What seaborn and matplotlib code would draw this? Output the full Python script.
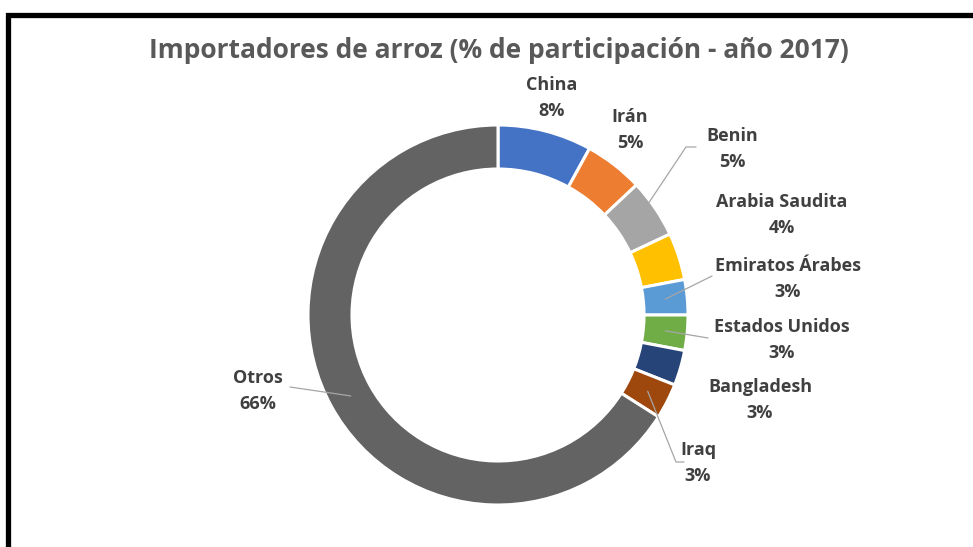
import numpy as np
import matplotlib.pyplot as plt
import seaborn as sns
from matplotlib.patches import Rectangle

# data
paises = ['China', 'Irán', 'Benin', 'Arabia Saudita', 'Emiratos Árabes',
          'Estados Unidos', 'Bangladesh', 'Iraq', 'Otros']
participacion = [8, 5, 5, 4, 3, 3, 3, 3, 66]
colores = ['#4472C4', '#ED7D31', '#A5A5A5', '#FFC000', '#5B9BD5',
           '#70AD47', '#264478', '#9E480E', '#636363']

# label centres in pixel space (x, y from top) and whether a leader line is drawn
label_pos = [(552, 98), (630, 130), (732, 149), (782, 215), (788, 279),
             (782, 340), (760, 400), (698, 463), (258, 391)]
leader = [False, False, True, False, True, True, False, True, True]
leader_end = {2: (686, 147), 4: (712, 276), 5: (708, 338), 7: (676, 462), 8: (290, 387)}

sns.set_theme(style='white')
plt.rcParams['font.family'] = ['Open Sans', 'DejaVu Sans']

W, H = 973, 547
fig = plt.figure(figsize=(W / 100, H / 100), dpi=100)
ax = fig.add_axes([0, 0, 1, 1])

cx, cy, R = 498, H - 315, 190
wedges, _ = ax.pie(participacion, colors=colores, startangle=90, counterclock=False,
                   radius=R, center=(cx, cy), frame=True,
                   wedgeprops=dict(width=44, edgecolor='white', linewidth=2.2))
ax.set_xlim(0, W)
ax.set_ylim(0, H)
ax.set_aspect('equal')
ax.axis('off')

for i, (nombre, val) in enumerate(zip(paises, participacion)):
    lx, ly = label_pos[i]
    ax.text(lx, H - ly, f'{nombre}\n{val}%', ha='center', va='center',
            fontsize=13, fontweight='bold', color='#404040', linespacing=1.6)
    if leader[i]:
        w = wedges[i]
        ang = np.deg2rad((w.theta1 + w.theta2) / 2)
        r = R - 22
        sx, sy = cx + r * np.cos(ang), cy + r * np.sin(ang)
        ex, ey = leader_end[i]
        ey = H - ey
        if i in (2, 7):
            hx = ex + (8 if i == 7 else 10)
            ax.plot([sx, ex, hx], [sy, ey, ey], color='#A6A6A6', lw=0.9)
        else:
            ax.plot([sx, ex], [sy, ey], color='#A6A6A6', lw=0.9)

fig.text(499 / W, 1 - 51 / H, 'Importadores de arroz (% de participación - año 2017)',
         ha='center', va='center', fontsize=19, fontweight='bold', color='#595959')

fig.patches.append(Rectangle((7.5 / W, -0.1), 1.2, 1 - 14.5 / H + 0.1,
                             transform=fig.transFigure, fill=False,
                             edgecolor='black', linewidth=3.8))

fig.savefig('out.png', dpi=100)
